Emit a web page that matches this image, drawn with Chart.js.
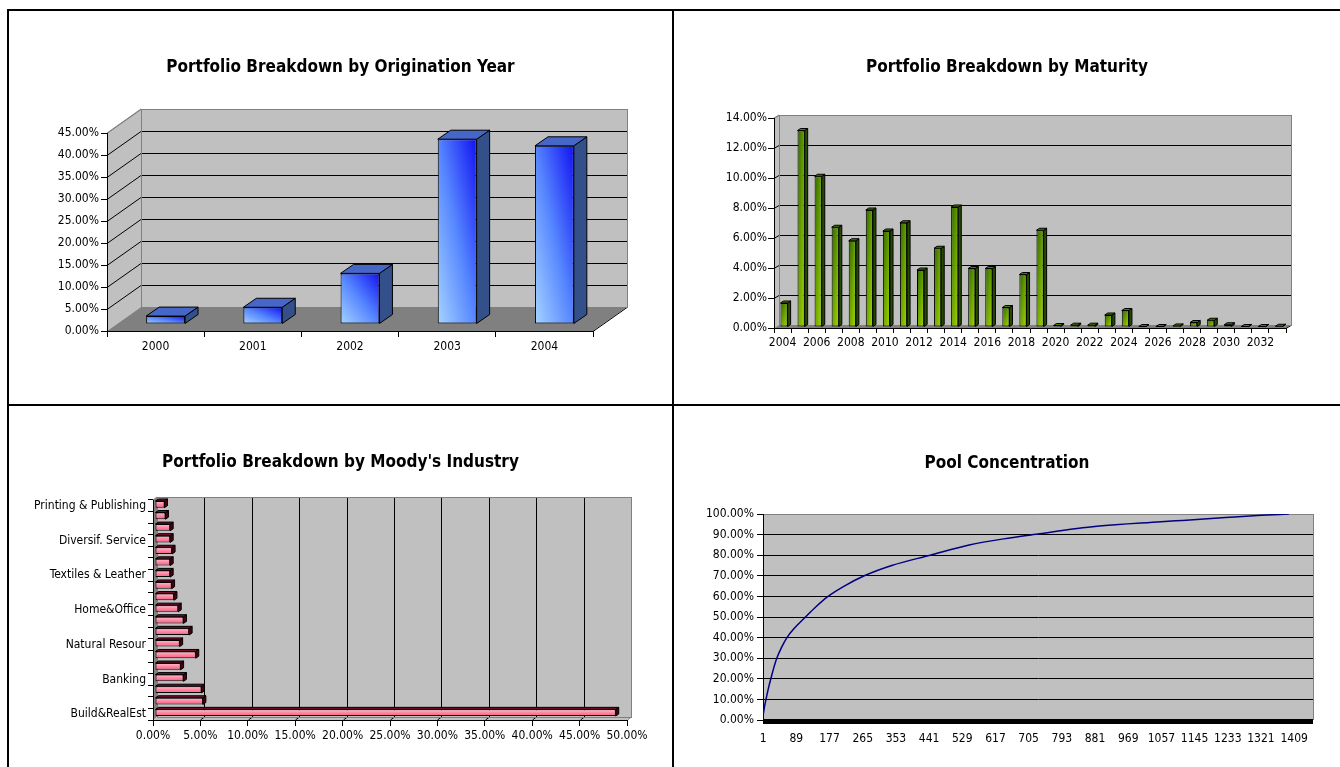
<!DOCTYPE html>
<html><head><meta charset="utf-8">
<script src="https://cdn.jsdelivr.net/npm/chart.js@4.4.1/dist/chart.umd.min.js"></script>
<style>
html,body{margin:0;padding:0;background:#fff;width:1340px;height:767px;overflow:hidden;position:relative}
.ln{position:absolute;background:#000}
canvas{position:absolute}
</style></head><body>
<div class="ln" style="left:7px;top:9px;width:1333px;height:2px"></div>
<div class="ln" style="left:7px;top:9px;width:2px;height:758px"></div>
<div class="ln" style="left:672px;top:9px;width:2px;height:758px"></div>
<div class="ln" style="left:7px;top:404px;width:1333px;height:2px"></div>
<canvas id="c1" width="663" height="393" style="left:9px;top:11px"></canvas>
<canvas id="c2" width="666" height="393" style="left:674px;top:11px"></canvas>
<canvas id="c3" width="663" height="361" style="left:9px;top:406px"></canvas>
<canvas id="c4" width="666" height="361" style="left:674px;top:406px"></canvas>
<script>
// ---------- data ----------
const originYears = ['2000', '2001', '2002', '2003', '2004'];
const originShare = [1.8, 3.8, 11.5, 42.0, 40.5];

const maturityYears = ['2004','2005','2006','2007','2008','2009','2010','2011','2012','2013',
  '2014','2015','2016','2017','2018','2019','2020','2021','2022','2023',
  '2024','2025','2026','2027','2028','2029','2030','2031','2032','2033'];
const maturityShare = [1.6, 13.1, 10.05, 6.65, 5.75, 7.8, 6.4, 6.95, 3.8, 5.25,
  8.0, 3.9, 3.9, 1.3, 3.5, 6.45, 0.1, 0.12, 0.12, 0.8,
  1.1, 0.03, 0.01, 0.07, 0.3, 0.45, 0.15, 0.01, 0.01, 0.05];

// bottom to top, as in the picture (only every third name is printed)
const industries = ['Build&RealEst', '', '', 'Banking', '', '', 'Natural Resour', '', '',
  'Home&Office', '', '', 'Textiles & Leather', '', '', 'Diversif. Service', '', '', 'Printing & Publishing'];
const industryShare = [48.6, 5.05, 4.9, 3.0, 2.7, 4.3, 2.6, 3.6, 3.0, 2.45,
  2.0, 1.75, 1.6, 1.6, 1.8, 1.6, 1.6, 1.1, 1.0];

const poolRank = [1, 4, 9, 15, 22, 29, 37, 49, 64, 86, 113, 141, 173, 216, 269, 342,
  444, 547, 659, 717, 886, 1056, 1113, 1227, 1322, 1395];
const poolCumShare = [2.5, 6, 10.5, 15.5, 20.5, 25.3, 30, 35, 40, 45, 50, 55, 60, 65, 70, 75,
  80, 85, 88.5, 90, 94, 96.2, 96.9, 98.3, 99.4, 100];
const poolTickLabels = [1, 89, 177, 265, 353, 441, 529, 617, 705, 793, 881, 969, 1057, 1145, 1233, 1321, 1409];

// ---------- helpers ----------
const FONT = '"DejaVu Sans Condensed", "DejaVu Sans", sans-serif';
Chart.defaults.font.family = FONT;
Chart.defaults.font.size = 12;
Chart.defaults.color = '#000';
Chart.defaults.animation = false;
Chart.defaults.plugins.legend.display = false;
Chart.defaults.plugins.tooltip.enabled = false;

const pct = v => Number(v).toFixed(2) + '%';
const title = (text, top, bottom) => ({display: true, text, color: '#000',
  font: {size: 17, weight: 'bold', family: FONT}, padding: {top, bottom}});
// an empty axis on the right that only reserves space, so the title stays centred on the panel
const rightGap = w => ({type: 'linear', position: 'right', display: true,
  grid: {display: false, drawTicks: false}, border: {display: false},
  ticks: {display: false}, afterFit: s => { s.width = w; }});

function poly(ctx, pts, fill, stroke) {
  ctx.beginPath();
  ctx.moveTo(pts[0][0], pts[0][1]);
  for (let i = 1; i < pts.length; i++) ctx.lineTo(pts[i][0], pts[i][1]);
  ctx.closePath();
  if (fill) { ctx.fillStyle = fill; ctx.fill(); }
  if (stroke) { ctx.strokeStyle = stroke; ctx.stroke(); }
}
function line(ctx, x0, y0, x1, y1, c) {
  ctx.beginPath(); ctx.strokeStyle = c; ctx.moveTo(x0, y0); ctx.lineTo(x1, y1); ctx.stroke();
}

function excelGrad(c, stops, bp, dir) {
  const ch = c.chart;
  if (c.type !== 'data' || !ch.chartArea) return stops[0][1];
  const hor = ch.options.indexAxis === 'y';
  const iS = hor ? ch.scales.y : ch.scales.x;
  const vS = hor ? ch.scales.x : ch.scales.y;
  const cpos = iS.getPixelForValue(c.dataIndex);
  const half = Math.abs(iS.getPixelForValue(1) - iS.getPixelForValue(0)) * bp / 2;
  const vpos = vS.getPixelForValue(c.raw), base = vS.getPixelForValue(0);
  let x0, x1, y0, y1;
  if (!hor) { x0 = cpos - half; x1 = cpos + half; y0 = Math.min(vpos, base); y1 = Math.max(vpos, base); }
  else { y0 = cpos - half; y1 = cpos + half; x0 = Math.min(vpos, base); x1 = Math.max(vpos, base); }
  const W = Math.max(x1 - x0, 1), H = Math.max(y1 - y0, 1);
  const k = 2 * W * H / (W * W + H * H);
  let g;
  if (dir === 'up') g = ch.ctx.createLinearGradient(x0, y1, x0 + H * k, y1 - W * k);
  else if (dir === 'down') g = ch.ctx.createLinearGradient(x0, y0, x0 + H * k, y0 + W * k);
  else g = ch.ctx.createLinearGradient(0, y0, 0, y1);
  stops.forEach(s => g.addColorStop(s[0], s[1]));
  return g;
}

function make3D(o) {
  return {
    id: 'box3d',
    beforeDraw(chart) {
      const ctx = chart.ctx, a = chart.chartArea;
      const L = a.left, R = a.right, T = a.top, B = a.bottom, dx = o.dx, dy = o.dy;
      ctx.save();
      ctx.lineWidth = 1;
      ctx.fillStyle = '#c0c0c0';
      ctx.fillRect(L + dx, T + dy, R - L, B - T);
      poly(ctx, [[L, T], [L + dx, T + dy], [L + dx, B + dy], [L, B]], o.horizontal ? '#808080' : '#c0c0c0');
      poly(ctx, [[L, B], [R, B], [R + dx, B + dy], [L + dx, B + dy]], o.horizontal ? '#c0c0c0' : '#808080');
      if (!o.horizontal) {
        const ys = chart.scales.y;
        ys.ticks.forEach(t => {
          if (t.value === ys.min) return;
          const py = Math.round(ys.getPixelForValue(t.value)) + 0.5;
          const col = t.value === ys.max ? '#808080' : '#000';
          line(ctx, L + dx, py + dy, R + dx, py + dy, col);
          line(ctx, L, py, L + dx, py + dy, col);
        });
        line(ctx, R, B + 0.5, R + dx, B + dy + 0.5, '#000');
      } else {
        const xs = chart.scales.x;
        xs.ticks.forEach(t => {
          if (t.value === xs.min) return;
          const px = Math.round(xs.getPixelForValue(t.value)) + 0.5;
          const col = t.value === xs.max ? '#808080' : '#000';
          line(ctx, px + dx, T + dy, px + dx, B + dy, col);
          line(ctx, px, B, px + dx, B + dy, col);
        });
      }
      ctx.strokeStyle = '#808080';
      ctx.strokeRect(Math.round(L + dx) + 0.5, Math.round(T + dy) + 0.5, R - L, B - T);
      line(ctx, L, T, L + dx, T + dy, '#808080');
      ctx.restore();
    },
    beforeDatasetsDraw(chart) {
      chart.ctx.save();
      chart.ctx.translate(o.bx, o.by);
    },
    afterDatasetsDraw(chart) {
      const ctx = chart.ctx;
      ctx.lineWidth = 1;
      const sx = o.sx, sy = o.sy;
      chart.getDatasetMeta(0).data.forEach(el => {
        const p = el.getProps(['x', 'y', 'base', 'width', 'height'], true);
        if (!o.horizontal) {
          const l = p.x - p.width / 2, r = p.x + p.width / 2;
          const t = Math.min(p.y, p.base), b = Math.max(p.y, p.base);
          poly(ctx, [[r, t], [r + sx, t + sy], [r + sx, b + sy], [r, b]], o.side, '#000');
          poly(ctx, [[l, t], [r, t], [r + sx, t + sy], [l + sx, t + sy]], o.top, '#000');
        } else {
          const t = p.y - p.height / 2, b = p.y + p.height / 2;
          const l = Math.min(p.x, p.base), r = Math.max(p.x, p.base);
          poly(ctx, [[r, t], [r + sx, t + sy], [r + sx, b + sy], [r, b]], o.side, '#000');
          poly(ctx, [[l, t], [r, t], [r + sx, t + sy], [l + sx, t + sy]], o.top, '#000');
        }
      });
      ctx.restore();
    }
  };
}

const blueStops = [[0, '#a6d4ff'], [0.5, '#5585ff'], [1, '#1212f2']];
const greenStops = [[0, '#2f6600'], [0.55, '#6fa800'], [1, '#a8d800']];
const pinkStops = [[0, '#ffc4d2'], [0.5, '#ff86a2'], [1, '#ff5a80']];

// ---------- 1: origination year ----------
new Chart(document.getElementById('c1'), {
  type: 'bar',
  data: {labels: originYears, datasets: [{data: originShare,
    backgroundColor: c => excelGrad(c, blueStops, 0.4, 'up'),
    borderColor: '#000', borderWidth: 1, borderSkipped: false,
    barPercentage: 0.4, categoryPercentage: 1, clip: false}]},
  options: {
    responsive: false,
    layout: {padding: {left: 0, right: 0, top: 0, bottom: 43}},
    plugins: {title: title('Portfolio Breakdown by Origination Year', 46, 55.6)},
    scales: {
      x: {grid: {drawOnChartArea: false, tickLength: 6, color: '#000', offset: true},
          border: {color: '#000'}, ticks: {padding: 3, maxRotation: 0},
          afterFit: s => { s.height = 30; }},
      y: {min: 0, max: 45, grid: {drawOnChartArea: false, tickLength: 6, color: '#000'},
          border: {color: '#000'}, ticks: {stepSize: 5, callback: pct, padding: 2},
          afterFit: s => { s.width = 98; }},
      gap: rightGap(79)
    }
  },
  plugins: [make3D({dx: 34, dy: -24, bx: 10, by: -7, sx: 13, sy: -9, side: '#34508a', top: '#4666c8'})]
});

// ---------- 2: maturity ----------
new Chart(document.getElementById('c2'), {
  type: 'bar',
  data: {labels: maturityYears, datasets: [{data: maturityShare,
    backgroundColor: c => excelGrad(c, greenStops, 0.42, 'down'),
    borderColor: '#000', borderWidth: 1, borderSkipped: false,
    barPercentage: 0.42, categoryPercentage: 1, clip: false}]},
  options: {
    responsive: false,
    layout: {padding: {left: 0, right: 0, top: 0, bottom: 46}},
    plugins: {title: title('Portfolio Breakdown by Maturity', 46, 40.6)},
    scales: {
      x: {grid: {drawOnChartArea: false, tickLength: 5, color: '#000', offset: true},
          border: {color: '#000'},
          ticks: {padding: 3, maxRotation: 0, autoSkip: false,
                  callback: (v, i) => i % 2 === 0 ? maturityYears[i] : ''},
          afterFit: s => { s.height = 30; }},
      y: {min: 0, max: 14, grid: {drawOnChartArea: false, tickLength: 6, color: '#000'},
          border: {color: '#000'}, ticks: {stepSize: 2, callback: pct, padding: 1},
          afterFit: s => { s.width = 100; }},
      gap: rightGap(54)
    }
  },
  plugins: [make3D({dx: 5, dy: -3, bx: 1.5, by: -1, sx: 3, sy: -2, side: '#264a00', top: '#4c8000'})]
});

// ---------- 3: Moody's industry ----------
new Chart(document.getElementById('c3'), {
  type: 'bar',
  data: {labels: industries, datasets: [{data: industryShare,
    backgroundColor: c => excelGrad(c, pinkStops, 0.58, 'vert'),
    borderColor: '#000', borderWidth: 1, borderSkipped: false,
    barPercentage: 0.58, categoryPercentage: 1, clip: false}]},
  options: {
    indexAxis: 'y',
    responsive: false,
    layout: {padding: {left: 0, right: 0, top: 0, bottom: 17}},
    plugins: {title: title("Portfolio Breakdown by Moody's Industry", 46, 27.6)},
    scales: {
      x: {min: 0, max: 50, grid: {drawOnChartArea: false, tickLength: 6, color: '#000'},
          border: {color: '#000'},
          ticks: {stepSize: 5, callback: pct, padding: 3, maxRotation: 0, autoSkip: false},
          afterFit: s => { s.height = 30; }},
      y: {reverse: true, grid: {drawOnChartArea: false, tickLength: 5, color: '#000', offset: true},
          border: {color: '#000'},
          ticks: {autoSkip: false, padding: 2, callback: (v, i) => industries[i]},
          afterFit: s => { s.width = 144; }},
      gap: rightGap(45)
    }
  },
  plugins: [make3D({horizontal: true, dx: 4, dy: -3, bx: 2, by: -1.5, sx: 3, sy: -2, side: '#4a0012', top: '#7a1030'})]
});

// ---------- 4: pool concentration ----------
const plotBg = {
  id: 'plotbg',
  beforeDraw(chart) {
    const {ctx, chartArea: a} = chart;
    ctx.save(); ctx.fillStyle = '#c0c0c0';
    ctx.fillRect(a.left, a.top, a.right - a.left, a.bottom - a.top); ctx.restore();
  },
  afterDraw(chart) {
    const {ctx, chartArea: a} = chart;
    ctx.save(); ctx.lineWidth = 1;
    line(ctx, Math.round(a.right) + 0.5, a.top, Math.round(a.right) + 0.5, a.bottom, '#808080');
    ctx.fillStyle = '#000';
    ctx.fillRect(a.left, a.bottom - 1, a.right - a.left, 5);
    ctx.restore();
  }
};
new Chart(document.getElementById('c4'), {
  type: 'line',
  data: {datasets: [{data: poolRank.map((r, i) => ({x: r, y: poolCumShare[i]})),
    borderColor: '#000080', borderWidth: 1.5, pointRadius: 0, fill: false,
    cubicInterpolationMode: 'monotone'}]},
  options: {
    responsive: false,
    layout: {padding: {left: 0, right: 0, top: 0, bottom: 17}},
    plugins: {title: title('Pool Concentration', 47, 40.6)},
    scales: {
      x: {type: 'linear', min: 0.5, max: 1459, grid: {display: false, drawTicks: false},
          border: {display: false},
          afterBuildTicks: s => { s.ticks = poolTickLabels.map(v => ({value: v})); },
          ticks: {autoSkip: false, maxRotation: 0, padding: 12, callback: v => String(v)},
          afterFit: s => { s.height = 30; }},
      y: {min: 0, max: 100,
          grid: {color: c => (c.tick && c.tick.value === 100) ? '#808080' : '#000', tickColor: '#000', tickLength: 6},
          border: {color: '#000'}, ticks: {stepSize: 10, callback: pct, padding: 3},
          afterFit: s => { s.width = 89; }},
      gap: rightGap(27)
    }
  },
  plugins: [plotBg]
});
</script>
</body></html>
